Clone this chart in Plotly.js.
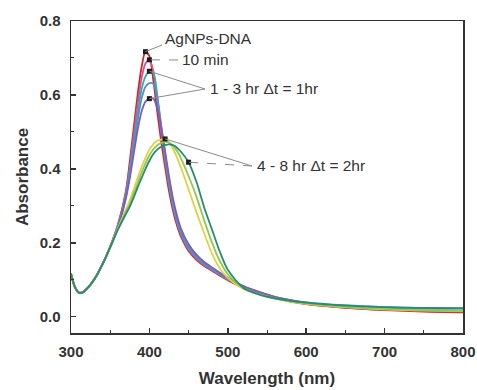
<!DOCTYPE html>
<html>
<head>
<meta charset="utf-8">
<script src="https://cdn.plot.ly/plotly-3.0.1.min.js"></script>
<style>html,body{margin:0;padding:0;background:#fff;}#chart{width:477px;height:390px;}</style>
</head>
<body>
<div id="chart"></div>
<script>
// Wavelength grid (nm)
const wavelength = [300,305,310,315,320,330,340,350,360,370,375,380,385,390,395,400,405,410,415,420,425,430,435,440,450,460,470,480,490,500,520,540,560,580,600,650,700,750,800];

// Absorbance series
const agnpsDNA = [0.118,0.082,0.066,0.067,0.076,0.103,0.142,0.190,0.250,0.340,0.420,0.510,0.600,0.675,0.717,0.705,0.640,0.555,0.475,0.405,0.340,0.288,0.248,0.218,0.178,0.154,0.137,0.124,0.111,0.099,0.078,0.062,0.050,0.041,0.034,0.024,0.018,0.014,0.012];
const min10    = [0.117,0.081,0.066,0.067,0.076,0.103,0.142,0.190,0.248,0.335,0.405,0.490,0.575,0.645,0.685,0.695,0.665,0.585,0.500,0.423,0.355,0.299,0.256,0.224,0.182,0.157,0.139,0.126,0.113,0.100,0.079,0.063,0.051,0.042,0.035,0.025,0.019,0.016,0.014];
const hr1      = [0.116,0.080,0.065,0.066,0.075,0.102,0.141,0.189,0.246,0.330,0.395,0.470,0.550,0.615,0.650,0.664,0.660,0.600,0.515,0.432,0.362,0.304,0.261,0.228,0.186,0.161,0.142,0.128,0.115,0.102,0.081,0.066,0.054,0.045,0.039,0.031,0.026,0.023,0.022];
const hr2      = [0.116,0.080,0.065,0.066,0.075,0.102,0.141,0.188,0.244,0.325,0.385,0.455,0.530,0.590,0.622,0.632,0.630,0.590,0.518,0.442,0.372,0.313,0.268,0.234,0.190,0.164,0.145,0.130,0.117,0.104,0.082,0.066,0.053,0.044,0.037,0.027,0.021,0.018,0.016];
const hr3      = [0.115,0.079,0.064,0.065,0.074,0.101,0.140,0.187,0.242,0.320,0.375,0.440,0.505,0.555,0.582,0.590,0.590,0.565,0.512,0.448,0.380,0.321,0.275,0.240,0.196,0.168,0.148,0.133,0.119,0.106,0.083,0.067,0.054,0.045,0.038,0.028,0.022,0.018,0.016];
const hr4      = [0.116,0.080,0.065,0.066,0.075,0.102,0.141,0.188,0.240,0.290,0.315,0.345,0.375,0.405,0.430,0.452,0.467,0.476,0.479,0.481,0.472,0.455,0.432,0.405,0.345,0.283,0.225,0.170,0.130,0.105,0.075,0.060,0.049,0.041,0.035,0.026,0.020,0.017,0.015];
const hr6      = [0.116,0.080,0.065,0.066,0.075,0.102,0.141,0.188,0.238,0.283,0.305,0.333,0.360,0.390,0.415,0.437,0.453,0.464,0.470,0.473,0.471,0.463,0.449,0.430,0.380,0.325,0.260,0.200,0.150,0.115,0.077,0.061,0.050,0.042,0.036,0.027,0.021,0.018,0.016];
const hr8      = [0.116,0.080,0.065,0.066,0.075,0.102,0.141,0.188,0.236,0.278,0.298,0.323,0.350,0.375,0.400,0.422,0.440,0.452,0.460,0.464,0.466,0.464,0.458,0.447,0.418,0.365,0.295,0.235,0.175,0.127,0.078,0.060,0.050,0.043,0.038,0.030,0.026,0.024,0.023];

const seriesNames = ['AgNPs-DNA','10 min','1 hr','2 hr','3 hr','4 hr','6 hr','8 hr'];
const seriesData  = [agnpsDNA, min10, hr1, hr2, hr3, hr4, hr6, hr8];
const seriesColors = ['#cc2430','#d4528e','#26b2aa','#5c88d4','#7c5eb6','#e2d240','#8cca54','#2c8a70'];

const annotationTexts = ['AgNPs-DNA','10 min','1 - 3 hr \u0394t = 1hr','4 - 8 hr \u0394t = 2hr'];

// plot geometry helpers (pixel -> data), used only for label anchor points
const L = 71, T = 21, PW = 392, PH = 312;
const X0 = 300, X1 = 800, Y0 = -0.044, Y1 = 0.8;
const px2x = p => X0 + (p - L) / PW * (X1 - X0);
const py2y = p => Y1 - (p - T) / PH * (Y1 - Y0);

function argmax(a){ let k=0; for(let i=1;i<a.length;i++) if(a[i]>a[k]) k=i; return k; }
function peak(a){ const k=argmax(a); return [wavelength[k], a[k]]; }
function at(a, wl){ const k=wavelength.indexOf(wl); return [wavelength[k], a[k]]; }

const traces = seriesData.map((d,i)=>({
  x: wavelength, y: d, name: seriesNames[i], type:'scatter', mode:'lines',
  line:{color: seriesColors[i], width:1.8, shape:'spline', smoothing:0.8},
  hoverinfo:'x+y+name'
}));

// pointer targets derived from the data
const targets = [peak(agnpsDNA), peak(min10), peak(hr1), peak(hr3), peak(hr4), at(hr8, 450)];
traces.push({
  x: targets.map(t=>t[0]), y: targets.map(t=>t[1]), type:'scatter', mode:'markers',
  marker:{symbol:'square', size:5, color:'#1a1a1a'}, hoverinfo:'skip', showlegend:false
});

// label anchors (pixels)
const anchors = [[162,45],[178,60],[205,89],[252,166]];
const lineDefs = [
  {a:0, t:0, dash:'solid'},
  {a:1, t:1, dash:'dash'},
  {a:2, t:2, dash:'solid'},
  {a:2, t:3, dash:'solid'},
  {a:3, t:4, dash:'solid'},
  {a:3, t:5, dash:'dash'}
];
const shapes = lineDefs.map(l=>({
  type:'line', xref:'x', yref:'y',
  x0: px2x(anchors[l.a][0]), y0: py2y(anchors[l.a][1]),
  x1: targets[l.t][0], y1: targets[l.t][1],
  line:{color:'#8a8a8a', width:1, dash:l.dash}
}));

const textPos = [[163,38],[180,59],[208,88],[255,165]];
const annotations = annotationTexts.map((t,i)=>({
  text:t, xref:'x', yref:'y', x:px2x(textPos[i][0]), y:py2y(textPos[i][1]),
  xanchor:'left', yanchor:'middle', showarrow:false,
  font:{family:'Liberation Sans, Arial, sans-serif', size:15.5, color:'#333'}
}));

const tickFont = {family:'Liberation Sans, Arial, sans-serif', size:15, weight:700, color:'#333'};
const titleFont = {family:'Liberation Sans, Arial, sans-serif', size:17, weight:700, color:'#333'};

const layout = {
  width:477, height:390,
  margin:{l:L, r:477-L-PW, t:T, b:390-T-PH, pad:0},
  paper_bgcolor:'#fff', plot_bgcolor:'#fff',
  showlegend:false,
  xaxis:{
    range:[X0,X1], tick0:300, dtick:100, ticks:'inside', ticklen:5, tickwidth:1.5, tickcolor:'#333',
    minor:{dtick:50, ticks:'inside', ticklen:3, tickwidth:1, tickcolor:'#333'},
    showline:true, mirror:true, linecolor:'#333', linewidth:1.5,
    showgrid:false, zeroline:false, tickfont:tickFont, ticklabelstandoff:4,
    automargin:false,
    title:{text:'Wavelength (nm)', font:titleFont, standoff:13}
  },
  yaxis:{
    range:[Y0,Y1], tick0:0, dtick:0.2, tickformat:'.1f', ticks:'inside', ticklen:5, tickwidth:1.5, tickcolor:'#333',
    minor:{dtick:0.1, ticks:'inside', ticklen:3, tickwidth:1, tickcolor:'#333'},
    showline:true, mirror:true, linecolor:'#333', linewidth:1.5,
    showgrid:false, zeroline:false, tickfont:tickFont, ticklabelstandoff:6,
    automargin:false,
    title:{text:'Absorbance', font:titleFont, standoff:6}
  },
  shapes:shapes,
  annotations:annotations
};

Plotly.newPlot('chart', traces, layout, {displayModeBar:false, staticPlot:true});
</script>
</body>
</html>
